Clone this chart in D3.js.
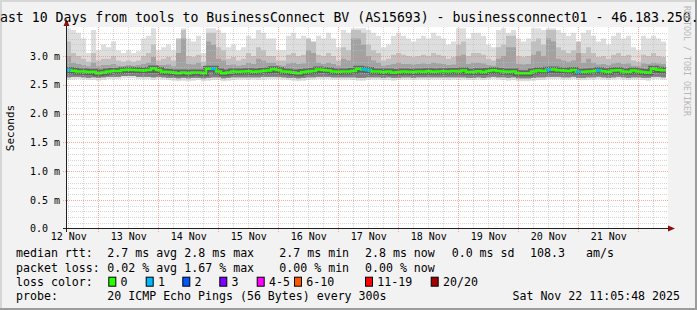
<!DOCTYPE html>
<html lang="en">
<head>
<meta charset="utf-8">
<title>smokeping</title>
<script src="https://cdn.jsdelivr.net/npm/d3@7/dist/d3.min.js"></script>
<style>
body { margin: 0; background: #f2f2f2; }
text { font-family: "DejaVu Sans Mono", monospace; fill: #000; }
</style>
</head>
<body>
<script>
// median rtt (ms), one value per 2 hour step, 12 Nov 11:05 -> 22 Nov 11:05
var medianRtt = [
  2.755,2.743,2.73,2.73,2.72,2.725,2.70,2.71,2.73,2.74,2.74,2.755,2.76,2.755,2.75,2.745,2.755,2.78,2.755,2.725,
  2.72,2.71,2.70,2.71,2.70,2.71,2.71,2.70,2.775,2.775,2.73,2.70,2.71,2.73,2.725,2.73,2.735,2.725,2.73,2.74,
  2.745,2.77,2.755,2.73,2.725,2.71,2.70,2.72,2.73,2.74,2.765,2.755,2.745,2.73,2.725,2.73,2.73,2.74,2.775,2.765,
  2.755,2.73,2.73,2.72,2.73,2.71,2.72,2.73,2.725,2.72,2.73,2.725,2.735,2.725,2.73,2.735,2.73,2.74,2.73,2.745,
  2.72,2.725,2.735,2.72,2.74,2.75,2.74,2.73,2.725,2.73,2.70,2.70,2.70,2.73,2.745,2.74,2.76,2.765,2.75,2.745,
  2.74,2.755,2.725,2.725,2.73,2.735,2.75,2.735,2.725,2.745,2.75,2.73,2.725,2.745,2.73,2.72,2.71,2.775,2.76,2.75
];
// smoke: slowest ping per step (ms)
var rttMax = [
  3.48,3.45,3.40,3.30,3.05,3.45,3.10,3.20,3.15,3.25,3.10,3.05,3.10,3.05,3.08,3.30,3.35,3.48,3.10,3.15,
  3.20,3.10,3.12,3.48,3.30,3.25,3.35,3.05,3.48,3.48,3.45,3.40,3.15,3.20,3.10,3.15,3.35,3.30,3.45,3.40,
  3.30,3.30,3.10,3.10,3.35,3.40,3.30,3.35,3.30,3.20,3.35,3.30,3.40,3.30,3.15,3.45,3.40,3.48,3.48,3.48,
  3.45,3.40,3.35,3.15,3.20,3.35,3.40,3.35,3.30,3.25,3.30,3.35,3.30,3.40,3.35,3.30,3.20,3.25,3.48,3.48,
  3.30,3.40,3.40,3.35,3.20,3.15,3.45,3.48,3.40,3.45,3.30,3.25,3.30,3.48,3.48,3.45,3.48,3.48,3.45,3.40,
  3.35,3.40,3.20,3.40,3.45,3.35,3.25,3.30,3.20,3.35,3.40,3.30,3.35,3.15,3.10,3.35,3.30,3.35,3.30,3.25
];
// smoke: upper spread
var rttHigh = [
  3.25,3.05,3.00,2.95,2.90,3.05,2.92,2.95,2.95,3.00,2.92,2.90,2.92,2.90,2.92,3.00,3.05,3.20,2.92,2.95,
  2.98,2.92,3.30,3.45,3.00,2.98,3.02,2.90,3.40,3.40,3.15,3.10,2.95,2.98,2.92,2.95,3.05,3.00,3.15,3.10,
  3.00,3.00,2.92,2.92,3.02,3.05,3.00,3.02,3.30,3.25,3.02,3.00,3.05,3.00,2.92,3.15,3.10,3.45,3.45,3.40,
  3.20,3.10,3.05,2.92,2.95,3.02,3.05,3.02,3.00,2.98,3.00,3.02,3.00,3.05,3.02,3.00,2.95,2.98,3.20,3.25,
  3.00,3.05,3.05,3.02,2.95,2.92,3.15,3.20,3.35,3.35,3.00,2.98,3.00,3.25,3.30,3.20,3.45,3.45,3.15,3.10,
  3.05,3.10,3.25,3.05,3.15,3.05,2.98,3.00,2.95,3.02,3.05,3.00,3.02,2.92,2.90,3.02,3.00,3.05,3.00,2.98
];
// smoke: upper quartile
var rttQ3 = [
  3.00,2.88,2.86,2.84,2.82,2.88,2.82,2.84,2.84,2.86,2.83,2.82,2.84,2.83,2.84,2.86,2.88,2.98,2.84,2.84,
  2.85,2.82,3.05,3.30,2.86,2.85,2.88,2.82,3.25,3.20,2.95,2.92,2.84,2.85,2.83,2.84,2.88,2.86,2.95,2.92,
  2.88,2.88,2.84,2.83,2.87,2.88,2.86,2.87,3.10,3.05,2.88,2.86,2.88,2.86,2.83,2.95,2.92,3.30,3.30,3.20,
  3.00,2.92,2.88,2.83,2.84,2.86,2.88,2.86,2.86,2.85,2.86,2.87,2.86,2.88,2.87,2.86,2.84,2.85,3.00,3.02,
  2.86,2.88,2.88,2.87,2.84,2.83,2.95,3.00,3.15,3.15,2.86,2.85,2.86,3.02,3.08,3.00,3.30,3.25,2.95,2.92,
  2.90,2.92,3.05,2.88,2.95,2.88,2.85,2.86,2.84,2.87,2.88,2.86,2.87,2.83,2.82,2.87,2.86,2.88,2.87,2.86
];
// smoke: lower spread
var rttLow = [
  2.63,2.64,2.64,2.63,2.62,2.63,2.62,2.63,2.64,2.64,2.64,2.65,2.65,2.65,2.64,2.64,2.64,2.63,2.64,2.63,
  2.62,2.62,2.61,2.62,2.61,2.62,2.62,2.61,2.62,2.63,2.63,2.61,2.62,2.63,2.63,2.63,2.63,2.63,2.63,2.64,
  2.64,2.64,2.64,2.63,2.62,2.62,2.61,2.62,2.63,2.63,2.64,2.64,2.64,2.63,2.63,2.63,2.63,2.63,2.62,2.62,
  2.63,2.63,2.63,2.62,2.63,2.62,2.62,2.63,2.63,2.62,2.63,2.63,2.63,2.63,2.63,2.63,2.63,2.63,2.63,2.63,
  2.62,2.62,2.63,2.62,2.63,2.64,2.63,2.63,2.62,2.63,2.61,2.61,2.61,2.62,2.63,2.63,2.64,2.64,2.64,2.63,
  2.63,2.64,2.62,2.62,2.63,2.63,2.64,2.63,2.62,2.63,2.64,2.63,2.62,2.63,2.63,2.62,2.62,2.64,2.64,2.63
];
// smoke: fastest ping per step
var rttMin = [
  2.58,2.59,2.60,2.59,2.58,2.58,2.57,2.58,2.60,2.60,2.60,2.61,2.61,2.61,2.60,2.60,2.60,2.58,2.60,2.59,
  2.58,2.57,2.56,2.57,2.56,2.57,2.58,2.56,2.57,2.58,2.58,2.56,2.57,2.58,2.59,2.59,2.58,2.59,2.58,2.59,
  2.60,2.60,2.60,2.59,2.58,2.57,2.56,2.57,2.58,2.59,2.60,2.60,2.60,2.59,2.59,2.59,2.59,2.58,2.57,2.57,
  2.58,2.59,2.59,2.58,2.58,2.57,2.58,2.59,2.59,2.58,2.59,2.59,2.58,2.59,2.59,2.59,2.58,2.59,2.58,2.59,
  2.58,2.58,2.59,2.58,2.59,2.60,2.59,2.58,2.57,2.58,2.56,2.56,2.56,2.57,2.58,2.58,2.60,2.60,2.60,2.59,
  2.59,2.60,2.58,2.58,2.59,2.59,2.60,2.59,2.58,2.59,2.60,2.59,2.58,2.59,2.59,2.58,2.57,2.60,2.60,2.59
];
// steps where one of the 20 pings was lost
var lossSteps = [0, 29, 59, 60, 96, 102, 106];

var yTicks = [0, 0.5, 1.0, 1.5, 2.0, 2.5, 3.0];
var lossLabels = ["0", "1", "2", "3", "4-5", "6-10", "11-19", "20/20"];
var lossColors = ["#26ff00", "#00b8ff", "#0059ff", "#7e00ff", "#ff00ff", "#ff5500", "#ff0000", "#a10000"];

var width = 697, height = 310;
var startTime = new Date(2025, 10, 12, 11, 5, 48),
    endTime = new Date(2025, 10, 22, 11, 5, 48),
    stepMs = 2 * 3600 * 1000;

var svg = d3.select("body").append("svg")
    .attr("width", width).attr("height", height);

// background + 3d frame
svg.append("rect").attr("width", width).attr("height", height).attr("fill", "#f2f2f2");
svg.append("rect").attr("x", 0).attr("y", 0).attr("width", width).attr("height", 2).attr("fill", "#d6d6d6");
svg.append("rect").attr("x", 0).attr("y", 0).attr("width", 2).attr("height", height).attr("fill", "#d6d6d6");
svg.append("rect").attr("x", 0).attr("y", height - 2).attr("width", width).attr("height", 2).attr("fill", "#9c9c9c");
svg.append("rect").attr("x", width - 2).attr("y", 0).attr("width", 2).attr("height", height).attr("fill", "#9c9c9c");

var x = d3.scaleTime().domain([startTime, endTime]).range([66, 666]);
var y = d3.scaleLinear().domain([0, 3.5]).range([228.7, 27.1]);

svg.append("rect").attr("x", 66).attr("y", 27).attr("width", 602).attr("height", 202).attr("fill", "#fff");

svg.append("clipPath").attr("id", "plot")
  .append("rect").attr("x", 66).attr("y", 27).attr("width", 602).attr("height", 202);

var g = svg.append("g").attr("clip-path", "url(#plot)");

function stepTime(i) { return new Date(+startTime + i * stepMs); }

function band(lo, hi) {
  var pts = medianRtt.map(function(d, i) { return { t: stepTime(i), lo: lo[i], hi: hi[i] }; });
  pts.push({ t: endTime, lo: lo[lo.length - 1], hi: hi[hi.length - 1] });
  return pts;
}

var area = d3.area()
    .x(function(d) { return x(d.t); })
    .y0(function(d) { return y(d.lo); })
    .y1(function(d) { return y(d.hi); })
    .curve(d3.curveStepAfter);

g.append("path").datum(band(rttMin, rttMax)).attr("d", area).attr("fill", "#dedede");
g.append("path").datum(band(rttLow, rttHigh)).attr("d", area).attr("fill", "#c0c0c0");
g.append("path").datum(band(rttLow, rttQ3)).attr("d", area).attr("fill", "#a2a2a2");
g.append("path").datum(band(rttLow, medianRtt)).attr("d", area).attr("fill", "#808080");

// grid
var grid = svg.append("g");
d3.range(1, 35).forEach(function(k) {
  var v = k / 10;
  if (k % 5 === 0) return;
  grid.append("line").attr("x1", 66).attr("x2", 668)
    .attr("y1", Math.round(y(v)) + 0.5).attr("y2", Math.round(y(v)) + 0.5)
    .attr("stroke", "#bdbdbd").attr("stroke-opacity", 0.6).attr("stroke-dasharray", "1,1");
});
d3.timeHour.every(6).range(startTime, endTime).forEach(function(t) {
  if (t.getHours() === 0) return;
  var xx = Math.round(x(t)) + 0.5;
  grid.append("line").attr("x1", xx).attr("x2", xx).attr("y1", 27).attr("y2", 229)
    .attr("stroke", "#bdbdbd").attr("stroke-opacity", 0.6).attr("stroke-dasharray", "1,1");
});
yTicks.slice(1).forEach(function(v) {
  grid.append("line").attr("x1", 63).attr("x2", 668)
    .attr("y1", Math.round(y(v)) + 0.5).attr("y2", Math.round(y(v)) + 0.5)
    .attr("stroke", "#ff8282").attr("stroke-opacity", 0.7).attr("stroke-dasharray", "1,1");
});
d3.timeDay.range(startTime, endTime).forEach(function(t) {
  var xx = Math.round(x(t)) + 0.5;
  grid.append("line").attr("x1", xx).attr("x2", xx).attr("y1", 27).attr("y2", 232)
    .attr("stroke", "#ff8282").attr("stroke-opacity", 0.7).attr("stroke-dasharray", "1,1");
});

// median line
var medPts = medianRtt.map(function(d, i) { return { t: stepTime(i), v: d }; });
medPts.push({ t: endTime, v: medianRtt[medianRtt.length - 1] });
var line = d3.line()
    .x(function(d) { return x(d.t); })
    .y(function(d) { return y(d.v); })
    .curve(d3.curveStepAfter);

g.append("path").datum(medPts).attr("d", line)
  .attr("fill", "none").attr("stroke", "#5a5a5a").attr("stroke-width", 6).attr("stroke-opacity", 0.85);
g.append("path").datum(medPts).attr("d", line)
  .attr("fill", "none").attr("stroke", lossColors[0]).attr("stroke-width", 2.5);
lossSteps.forEach(function(i) {
  g.append("path").datum([medPts[i], { t: medPts[i + 1].t, v: medPts[i].v }]).attr("d", line)
    .attr("fill", "none").attr("stroke", lossColors[1]).attr("stroke-width", 2.5);
});

// axes
var yAxis = d3.axisLeft(y).tickValues(yTicks).tickSize(0).tickPadding(0)
    .tickFormat(function(d) { return d === 0 ? "0.0" : d.toFixed(1) + " m"; });
var ya = svg.append("g").attr("transform", "translate(60,0)").call(yAxis);
ya.select(".domain").remove();
ya.selectAll("text").attr("font-family", "DejaVu Sans Mono").attr("font-size", "10px").attr("fill", "#000")
  .attr("x", function(d) { return d === 0 ? -12 : 0; })
  .attr("dy", function(d) { return d === 0 ? "0.25em" : "0.32em"; });

var labelDays = d3.timeDay.range(d3.timeDay.floor(startTime), endTime)
    .map(function(d) { return d3.timeHour.offset(d, 12); })
    .filter(function(d) { return d < endTime; });
var xAxis = d3.axisBottom(x).tickValues(labelDays).tickSize(0).tickPadding(0)
    .tickFormat(d3.timeFormat("%d %b"));
var xa = svg.append("g").attr("transform", "translate(0,233)").call(xAxis);
xa.select(".domain").remove();
xa.selectAll("text").attr("font-family", "DejaVu Sans Mono").attr("font-size", "10px").attr("fill", "#000");

svg.append("line").attr("x1", 63).attr("x2", 670).attr("y1", 228.5).attr("y2", 228.5).attr("stroke", "#202020");
svg.append("line").attr("x1", 66.5).attr("x2", 66.5).attr("y1", 232).attr("y2", 24).attr("stroke", "#202020");
svg.append("path").attr("d", "M668,225.5L675,228.5L668,231.5Z").attr("fill", "#8b1010");
svg.append("path").attr("d", "M63.5,26L66.5,19L69.5,26Z").attr("fill", "#8b1010");

// titles
svg.append("text").attr("x", -8).attr("y", 22).attr("font-size", "13.2px")
  .text("Last 10 Days from tools to BusinessConnect BV (AS15693) - businessconnect01 - 46.183.250.");
svg.append("text").attr("transform", "translate(14,128) rotate(-90)").attr("text-anchor", "middle")
  .attr("font-size", "11px").text("Seconds");
svg.append("text").attr("transform", "translate(684,6) rotate(90)")
  .attr("font-size", "8.3px").style("fill", "#b8b8b8").text("RRDTOOL / TOBI OETIKER");

// legend
var lf = "11.6px";
function leg(xx, yy, s) {
  svg.append("text").attr("x", xx).attr("y", yy).attr("font-size", lf)
    .style("white-space", "pre").text(s);
}
var row1 = [[16, "median rtt:"], [107.3, "2.7 ms avg"], [184.3, "2.8 ms max"], [279.3, "2.7 ms min"],
            [365, "2.8 ms now"], [451.7, "0.0 ms sd"], [530, "108.3"], [586, "am/s"]];
var row2 = [[16, "packet loss:"], [107.3, "0.02 % avg"], [184.3, "1.67 % max"], [279.3, "0.00 % min"],
            [365, "0.00 % now"]];
row1.forEach(function(d) { leg(d[0], 257.3, d[1]); });
row2.forEach(function(d) { leg(d[0], 271.7, d[1]); });
leg(16, 285.7, "loss color:");
var swX = [108.3, 145.7, 182.3, 219.3, 256.7, 294, 365, 430.7];
lossLabels.forEach(function(l, i) {
  svg.append("rect").attr("x", swX[i] + 0.5).attr("y", 277.2).attr("width", 7).attr("height", 9)
    .attr("fill", lossColors[i]).attr("stroke", "#000");
  leg(swX[i] + 12.3, 285.7, l);
});
leg(16, 299.7, "probe:");
leg(107.3, 299.7, "20 ICMP Echo Pings (56 Bytes) every 300s");
svg.append("text").attr("x", 680).attr("y", 299.7).attr("text-anchor", "end").attr("font-size", lf)
  .text("Sat Nov 22 11:05:48 2025");
</script>
</body>
</html>
